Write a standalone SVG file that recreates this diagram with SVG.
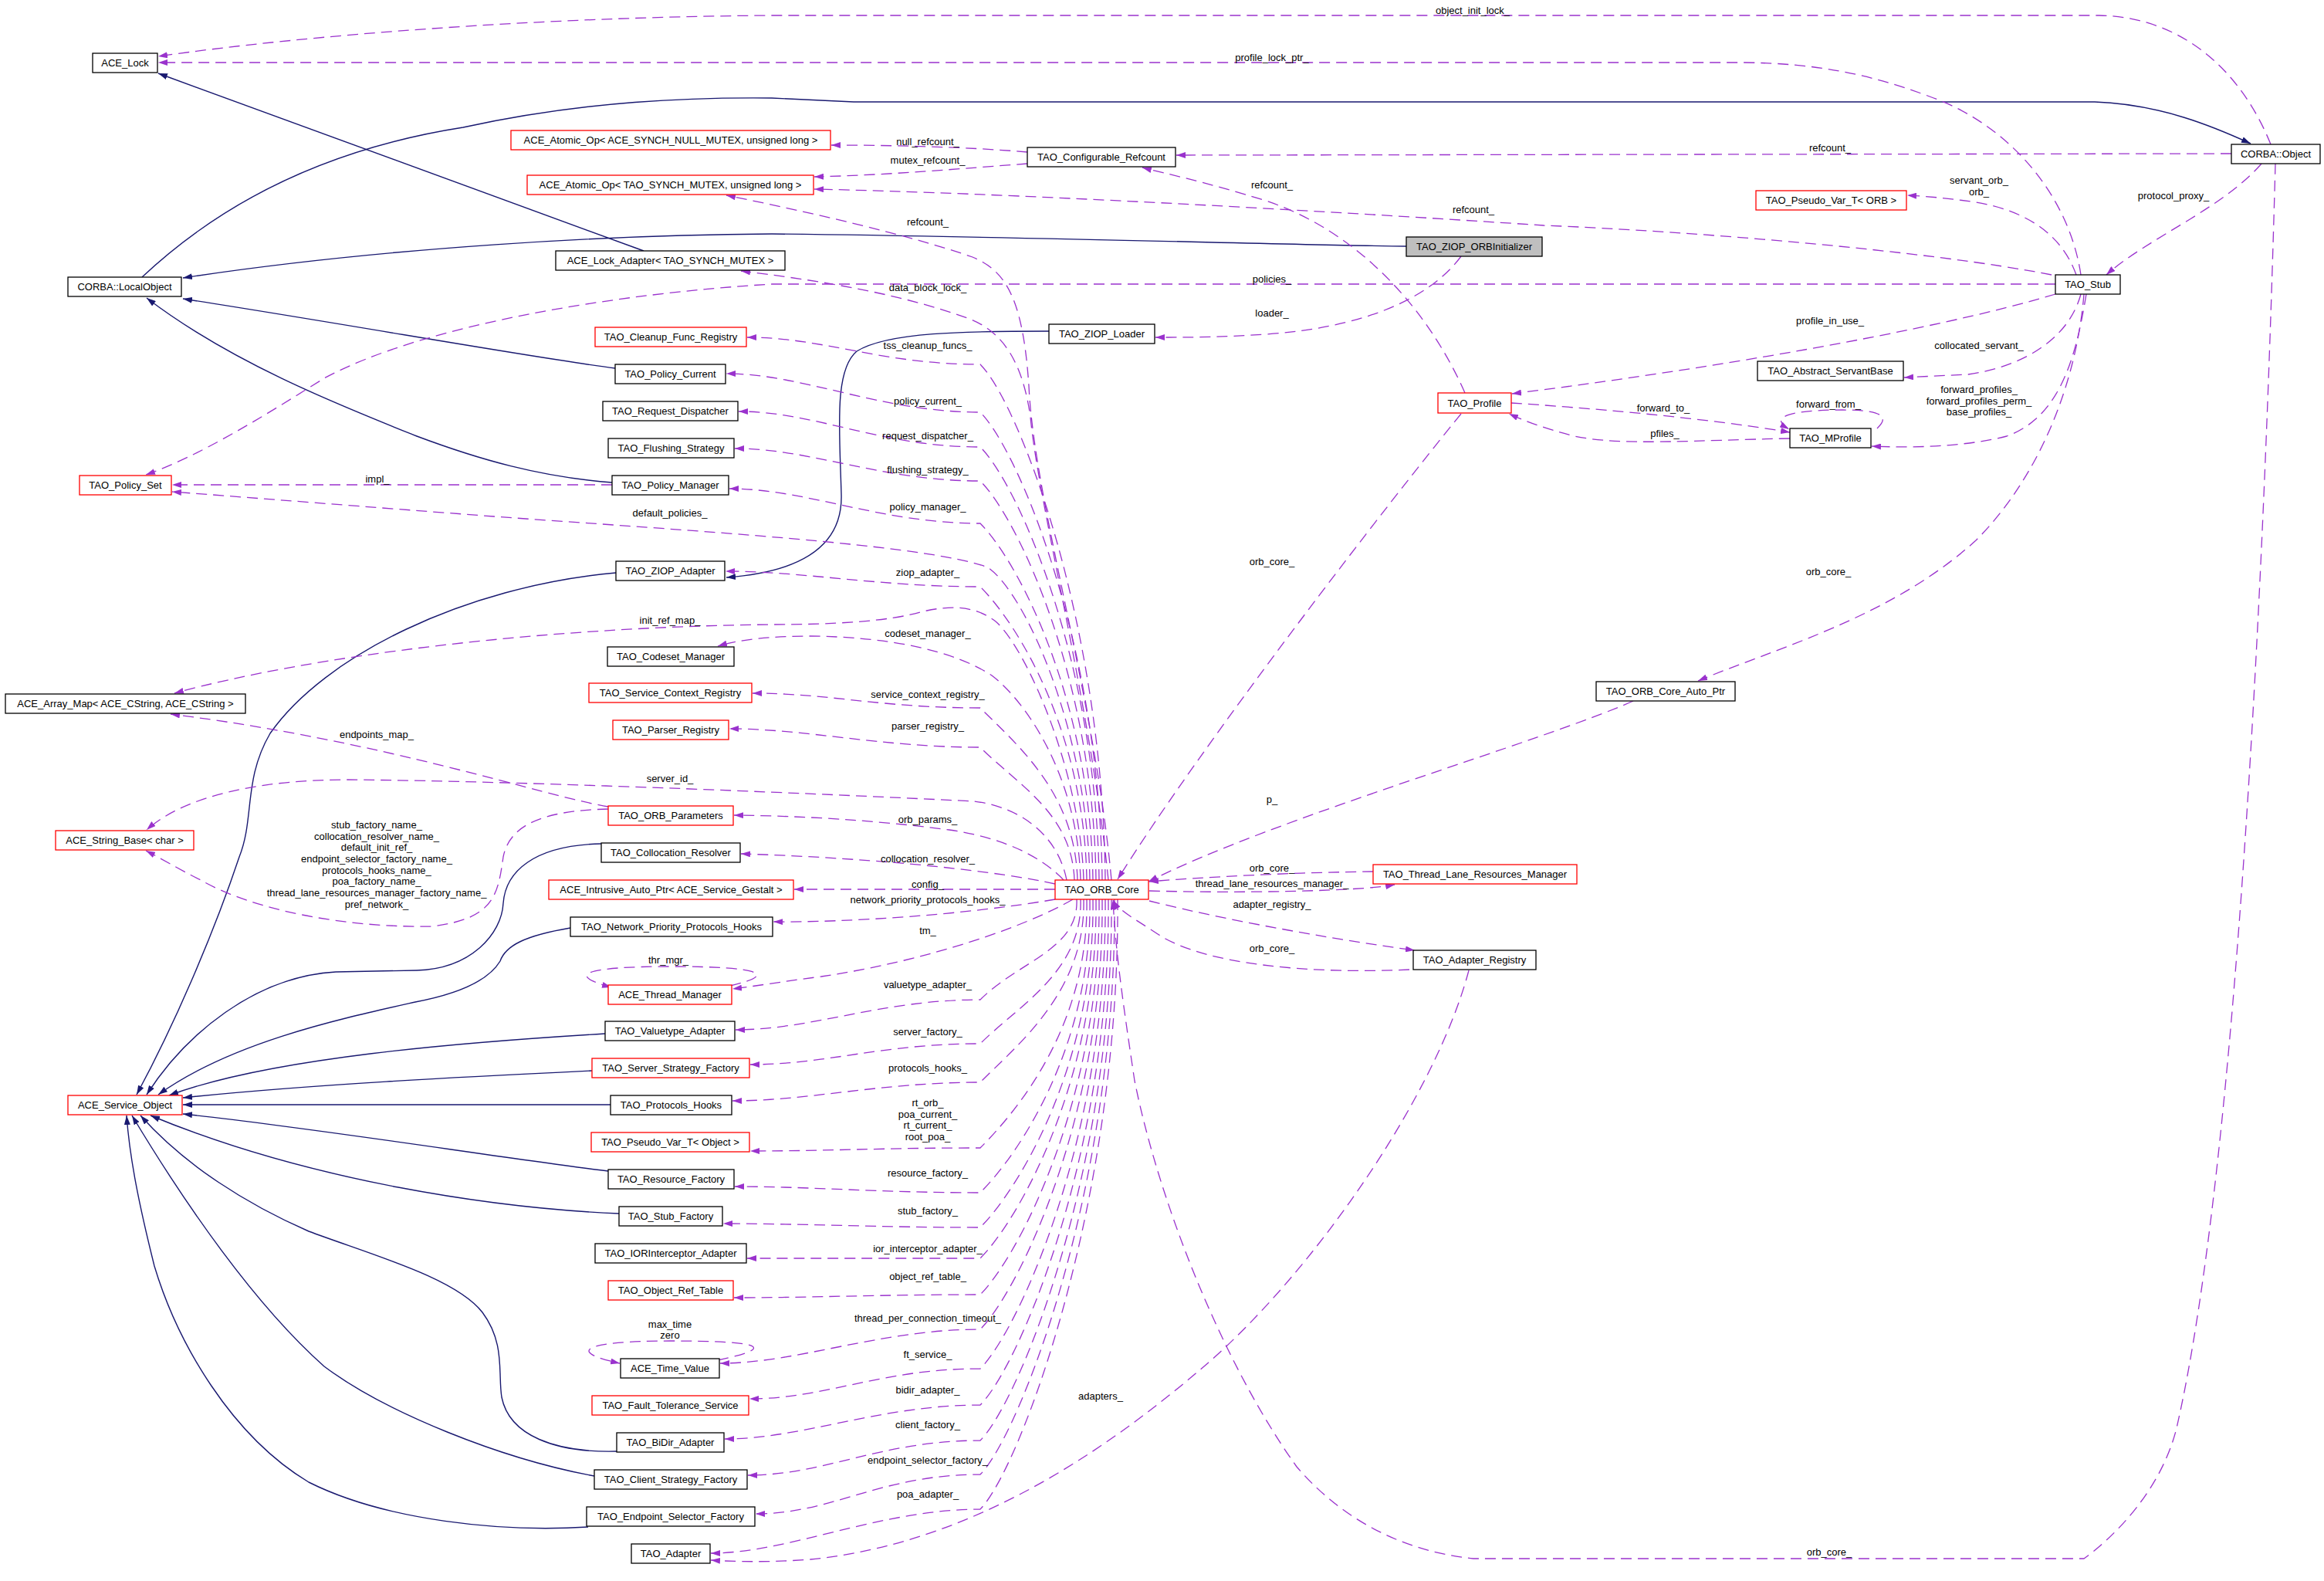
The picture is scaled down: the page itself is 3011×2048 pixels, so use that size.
<svg xmlns="http://www.w3.org/2000/svg" width="3011" height="2048" viewBox="0 0 3011 2048">
<style>
text{font-family:"Liberation Sans",Arial,sans-serif;font-size:13px;fill:#000;text-anchor:middle}
.n rect{fill:#fff;stroke:#000;stroke-width:1.3}
.r rect{stroke:#f00}
.g rect{fill:#bfbfbf}
.e{fill:none;stroke:#9a32cd;stroke-width:1.3;stroke-dasharray:14,8;marker-end:url(#ap)}
.i{fill:none;stroke:#191970;stroke-width:1.4;marker-end:url(#ab)}
</style>
<defs>
<marker id="ap" viewBox="0 0 12 8" refX="12" refY="4" markerWidth="12" markerHeight="8" orient="auto" markerUnits="userSpaceOnUse"><path d="M0,0L12,4L0,8z" fill="#9a32cd"/></marker>
<marker id="ab" viewBox="0 0 12 8" refX="12" refY="4" markerWidth="12" markerHeight="8" orient="auto" markerUnits="userSpaceOnUse"><path d="M0,0L12,4L0,8z" fill="#191970"/></marker>
</defs>
<rect width="3011" height="2048" fill="#fff"/>
<g id="edges">
<!-- inheritance -->
<path class="i" d="M834,325L205,95"/>
<path class="i" d="M184,359C300,250 440,190 600,165C760,130 900,126 1000,127L1106,132L2714,132C2800,135 2870,165 2916,186"/>
<path class="i" d="M1822,319C1700,318 1300,306 1000,303C800,304 500,320 237,360"/>
<path class="i" d="M797,477C700,465 450,420 237,387"/>
<path class="i" d="M793,625C700,618 620,595 540,565C440,525 300,470 190,386"/>
<path class="i" d="M1359,429C1250,429 1150,430 1110,455C1080,480 1088,560 1090,640C1092,700 1050,740 941,748"/>
<path class="i" d="M798,742C600,760 420,850 350,950C315,1010 330,1060 310,1110C280,1200 230,1320 177,1418"/>
<path class="i" d="M779,1093C690,1095 655,1130 652,1170C650,1210 610,1255 540,1257L435,1259C330,1265 240,1340 190,1418"/>
<path class="i" d="M739,1202C680,1212 655,1225 648,1245C630,1275 580,1290 538,1298C440,1320 300,1350 205,1418"/>
<path class="i" d="M784,1339C600,1350 350,1370 219,1419"/>
<path class="i" d="M767,1387C600,1395 400,1405 237,1422"/>
<path class="i" d="M791,1431L237,1431"/>
<path class="i" d="M788,1517C650,1500 400,1460 237,1443"/>
<path class="i" d="M802,1572C640,1565 400,1530 195,1445"/>
<path class="i" d="M799,1880C720,1882 660,1860 650,1810C645,1780 655,1740 625,1700C590,1655 480,1625 400,1595C320,1560 240,1510 182,1445"/>
<path class="i" d="M770,1912C650,1890 500,1830 420,1770C330,1690 240,1560 171,1445"/>
<path class="i" d="M762,1978C650,1985 500,1970 400,1920C300,1860 230,1740 200,1640C180,1560 168,1500 164,1445"/>
<!-- usage -->
<path class="e" d="M2942,187C2905,95 2830,22 2720,20L1000,20C700,22 400,45 205,73"/>
<path class="e" d="M2696,356C2680,250 2600,160 2500,125C2420,95 2350,82 2260,81L205,81"/>
<path class="e" d="M1331,197C1250,190 1150,188 1077,188"/>
<path class="e" d="M1331,212C1250,218 1150,227 1055,229"/>
<path class="e" d="M2658,356C2500,325 2200,300 2000,292C1700,272 1300,250 1055,245"/>
<path class="e" d="M1440,1140C1418,900 1340,650 1333,500C1325,380 1300,350 1260,333C1180,305 1050,275 941,253"/>
<path class="e" d="M1436,1140C1414,920 1345,650 1335,540C1325,470 1300,430 1256,413C1160,378 1050,362 960,351"/>
<path class="e" d="M2663,368L1000,368C800,380 550,420 420,490C340,540 260,590 189,615"/>
<path class="e" d="M1893,332C1850,390 1760,425 1640,433C1580,437 1540,437 1497,437"/>
<path class="e" d="M1898,509C1850,400 1760,300 1640,260C1560,235 1510,225 1480,217"/>
<path class="e" d="M2891,199L1524,201"/>
<path class="e" d="M2690,356C2670,300 2620,272 2560,262C2520,256 2490,254 2471,253"/>
<path class="e" d="M2930,212C2880,270 2780,310 2729,356"/>
<path class="e" d="M2696,381C2680,440 2620,475 2550,485L2467,489"/>
<path class="e" d="M2663,381C2500,430 2200,480 1959,510"/>
<path class="e" d="M2703,381C2690,460 2670,540 2600,565C2540,580 2470,580 2425,578"/>
<path class="e" d="M2700,381C2690,500 2640,620 2560,700C2450,800 2300,840 2200,882"/>
<path class="e" d="M1958,522C2050,528 2200,540 2319,560"/>
<path class="e" d="M2319,568C2200,570 2100,578 2040,565C2000,555 1975,545 1955,536"/>
<path class="e" d="M2432,555C2448,540 2440,531 2387,531C2320,531 2290,540 2318,556"/>
<path class="e" d="M1893,536C1800,650 1560,960 1448,1139"/>
<path class="e" d="M2116,908C2000,960 1650,1060 1488,1142"/>
<path class="e" d="M1779,1129C1680,1130 1560,1136 1489,1142"/>
<path class="e" d="M1489,1154C1600,1157 1760,1155 1807,1146"/>
<path class="e" d="M1489,1167C1600,1195 1750,1220 1833,1231"/>
<path class="e" d="M1826,1256C1700,1262 1560,1250 1500,1210C1470,1190 1450,1180 1442,1166"/>
<path class="e" d="M1903,1257C1860,1420 1700,1650 1560,1770C1420,1890 1250,2000 1050,2020C1000,2024 950,2023 921,2021"/>
<path class="e" d="M2948,212C2935,700 2900,1500 2820,1850C2800,1930 2740,1990 2700,2019L1909,2019C1820,2010 1740,1970 1680,1900C1580,1760 1500,1550 1470,1400C1455,1300 1445,1230 1442,1166"/>
<!-- ORB_Core fan, upper -->
<path class="e" d="M1432,1140C1429,806 1320,522 1270,472C1140,472 1068,437 968,437"/>
<path class="e" d="M1428,1140C1425,837 1320,584 1270,534C1140,534 1041,484 941,484"/>
<path class="e" d="M1424,1140C1421,860 1320,629 1270,579C1140,579 1057,533 957,533"/>
<path class="e" d="M1420,1140C1417,882 1320,673 1270,623C1140,623 1052,581 952,581"/>
<path class="e" d="M1416,1140C1413,909 1320,728 1270,678C1140,678 1045,633 945,633"/>
<path class="e" d="M1412,1140C1409,950 1330,770 1280,735C1200,705 900,688 640,669C480,657 330,645 223,637"/>
<path class="e" d="M1408,1140C1405,950 1320,810 1270,760C1140,760 1040,740 940,740"/>
<path class="e" d="M1404,1140C1400,1000 1330,840 1290,805C1260,782 1225,785 1192,793C1150,805 1080,809 1000,809C700,812 400,850 226,898"/>
<path class="e" d="M1400,1140C1396,1000 1325,905 1285,875C1235,842 1150,825 1050,824C1000,824 960,828 930,837"/>
<path class="e" d="M1396,1140C1393,1028 1320,967 1270,917C1140,917 1075,898 975,898"/>
<path class="e" d="M1392,1140C1389,1054 1320,1018 1270,968C1140,968 1045,944 945,944"/>
<path class="e" d="M1382,1140C1370,1080 1320,1045 1262,1038C1100,1030 700,1012 450,1010C340,1010 240,1030 190,1075"/>
<path class="e" d="M788,1045C700,1030 500,960 221,925"/>
<path class="e" d="M788,1048C700,1050 660,1070 652,1110C645,1160 640,1190 560,1200C450,1202 330,1180 260,1140C230,1125 205,1110 189,1102"/>
<path class="e" d="M793,628L223,628"/>
<path class="e" d="M1378,1140C1350,1110 1300,1085 1230,1075C1130,1062 1040,1057 951,1056"/>
<path class="e" d="M1367,1145C1300,1130 1150,1112 960,1106"/>
<path class="e" d="M1367,1152L1029,1152"/>
<path class="e" d="M1367,1165C1250,1185 1100,1195 1002,1194"/>
<!-- ORB_Core fan, lower -->
<path class="e" d="M1390,1165C1330,1200 1200,1245 1064,1265C1010,1272 975,1278 949,1281"/>
<path class="e" d="M946,1277C1010,1262 985,1252 870,1252C760,1252 730,1262 792,1279"/>
<path class="e" d="M1395,1165C1398,1230 1320,1245 1270,1295C1140,1295 1053,1334 953,1334"/>
<path class="e" d="M1400,1165C1403,1258 1320,1302 1270,1352C1140,1352 1072,1379 972,1379"/>
<path class="e" d="M1404,1165C1407,1283 1320,1352 1270,1402C1140,1402 1049,1426 949,1426"/>
<path class="e" d="M1408,1165C1411,1326 1320,1437 1270,1487C1140,1487 1072,1491 972,1491"/>
<path class="e" d="M1412,1165C1415,1355 1320,1495 1270,1545C1140,1545 1052,1537 952,1537"/>
<path class="e" d="M1416,1165C1419,1377 1320,1540 1270,1590C1140,1590 1037,1585 937,1585"/>
<path class="e" d="M1420,1165C1423,1397 1320,1580 1270,1630C1140,1630 1068,1630 968,1630"/>
<path class="e" d="M1424,1165C1427,1421 1320,1627 1270,1677C1140,1677 1051,1681 951,1681"/>
<path class="e" d="M1428,1165C1431,1443 1320,1672 1270,1722C1140,1722 1033,1766 933,1766"/>
<path class="e" d="M930,1762C1010,1745 985,1737 868,1737C760,1737 730,1750 803,1766"/>
<path class="e" d="M1432,1165C1435,1469 1320,1723 1270,1773C1140,1773 1071,1812 971,1812"/>
<path class="e" d="M1436,1165C1439,1492 1320,1770 1270,1820C1140,1820 1039,1864 939,1864"/>
<path class="e" d="M1440,1165C1443,1515 1320,1816 1270,1866C1140,1866 1069,1911 969,1911"/>
<path class="e" d="M1444,1165C1447,1537 1320,1860 1270,1910C1140,1910 1079,1961 979,1961"/>
<path class="e" d="M1448,1165C1451,1560 1320,1905 1270,1955C1140,1955 1021,2012 921,2012"/>
<!-- labels -->
<text x="1908" y="18">object_init_lock_</text>
<text x="1648" y="79">profile_lock_ptr_</text>
<text x="1202" y="188">null_refcount_</text>
<text x="1202" y="212">mutex_refcount_</text>
<text x="2371" y="196">refcount_</text>
<text x="1648" y="244">refcount_</text>
<text x="1909" y="276">refcount_</text>
<text x="1202" y="292">refcount_</text>
<text x="2564" y="238">servant_orb_</text>
<text x="2564" y="253">orb_</text>
<text x="2816" y="258">protocol_proxy_</text>
<text x="1648" y="366">policies_</text>
<text x="1202" y="377">data_block_lock_</text>
<text x="1648" y="410">loader_</text>
<text x="2371" y="420">profile_in_use_</text>
<text x="1202" y="452">tss_cleanup_funcs_</text>
<text x="2564" y="452">collocated_servant_</text>
<text x="2564" y="509">forward_profiles_</text>
<text x="2564" y="524">forward_profiles_perm_</text>
<text x="2564" y="538">base_profiles_</text>
<text x="1202" y="524">policy_current_</text>
<text x="2369" y="528">forward_from_</text>
<text x="2155" y="533">forward_to_</text>
<text x="2157" y="566">pfiles_</text>
<text x="1202" y="569">request_dispatcher_</text>
<text x="1202" y="613">flushing_strategy_</text>
<text x="489" y="625">impl_</text>
<text x="1202" y="661">policy_manager_</text>
<text x="868" y="669">default_policies_</text>
<text x="1648" y="732">orb_core_</text>
<text x="2369" y="745">orb_core_</text>
<text x="1202" y="746">ziop_adapter_</text>
<text x="868" y="808">init_ref_map_</text>
<text x="1202" y="825">codeset_manager_</text>
<text x="1202" y="904">service_context_registry_</text>
<text x="1202" y="945">parser_registry_</text>
<text x="488" y="956">endpoints_map_</text>
<text x="868" y="1013">server_id_</text>
<text x="1648" y="1040">p_</text>
<text x="1202" y="1066">orb_params_</text>
<text x="488" y="1073">stub_factory_name_</text>
<text x="488" y="1088">collocation_resolver_name_</text>
<text x="488" y="1102">default_init_ref_</text>
<text x="488" y="1117">endpoint_selector_factory_name_</text>
<text x="488" y="1132">protocols_hooks_name_</text>
<text x="488" y="1146">poa_factory_name_</text>
<text x="488" y="1161">thread_lane_resources_manager_factory_name_</text>
<text x="488" y="1176">pref_network_</text>
<text x="1202" y="1117">collocation_resolver_</text>
<text x="1648" y="1129">orb_core_</text>
<text x="1202" y="1150">config_</text>
<text x="1648" y="1149">thread_lane_resources_manager_</text>
<text x="1202" y="1170">network_priority_protocols_hooks_</text>
<text x="1648" y="1176">adapter_registry_</text>
<text x="1202" y="1210">tm_</text>
<text x="1648" y="1233">orb_core_</text>
<text x="866" y="1248">thr_mgr_</text>
<text x="1202" y="1280">valuetype_adapter_</text>
<text x="1202" y="1341">server_factory_</text>
<text x="1202" y="1388">protocols_hooks_</text>
<text x="1202" y="1433">rt_orb_</text>
<text x="1202" y="1448">poa_current_</text>
<text x="1202" y="1462">rt_current_</text>
<text x="1202" y="1477">root_poa_</text>
<text x="1202" y="1524">resource_factory_</text>
<text x="1202" y="1573">stub_factory_</text>
<text x="1202" y="1622">ior_interceptor_adapter_</text>
<text x="1202" y="1658">object_ref_table_</text>
<text x="1202" y="1712">thread_per_connection_timeout_</text>
<text x="868" y="1720">max_time</text>
<text x="868" y="1734">zero</text>
<text x="1202" y="1759">ft_service_</text>
<text x="1202" y="1805">bidir_adapter_</text>
<text x="1426" y="1813">adapters_</text>
<text x="1202" y="1850">client_factory_</text>
<text x="1202" y="1896">endpoint_selector_factory_</text>
<text x="1202" y="1940">poa_adapter_</text>
<text x="2370" y="2015">orb_core_</text>
</g>
<g id="node-ACE_Lock" class="n"><rect x="120" y="69" width="84" height="25"/><text x="162" y="86">ACE_Lock</text></g>
<g id="node-CORBA_LocalObject" class="n"><rect x="88" y="359" width="147" height="25"/><text x="161.5" y="376">CORBA::LocalObject</text></g>
<g id="node-TAO_Policy_Set" class="n r"><rect x="103" y="616" width="119" height="25"/><text x="162.5" y="633">TAO_Policy_Set</text></g>
<g id="node-ACE_Array_Map" class="n"><rect x="7" y="899" width="311" height="25"/><text x="162.5" y="916">ACE_Array_Map&lt; ACE_CString, ACE_CString &gt;</text></g>
<g id="node-ACE_String_Base" class="n r"><rect x="72" y="1076" width="179" height="25"/><text x="161.5" y="1093">ACE_String_Base&lt; char &gt;</text></g>
<g id="node-ACE_Service_Object" class="n r"><rect x="88" y="1419" width="148" height="25"/><text x="162" y="1436">ACE_Service_Object</text></g>
<g id="node-ACE_Atomic_Op_NULL" class="n r"><rect x="662" y="169" width="414" height="25"/><text x="869" y="186">ACE_Atomic_Op&lt; ACE_SYNCH_NULL_MUTEX, unsigned long &gt;</text></g>
<g id="node-ACE_Atomic_Op_TAO" class="n r"><rect x="683" y="227" width="371" height="25"/><text x="868.5" y="244">ACE_Atomic_Op&lt; TAO_SYNCH_MUTEX, unsigned long &gt;</text></g>
<g id="node-ACE_Lock_Adapter" class="n"><rect x="720" y="325" width="297" height="25"/><text x="868.5" y="342">ACE_Lock_Adapter&lt; TAO_SYNCH_MUTEX &gt;</text></g>
<g id="node-TAO_Cleanup_Func_Registry" class="n r"><rect x="771" y="424" width="196" height="25"/><text x="869" y="441">TAO_Cleanup_Func_Registry</text></g>
<g id="node-TAO_Policy_Current" class="n"><rect x="797" y="472" width="143" height="25"/><text x="868.5" y="489">TAO_Policy_Current</text></g>
<g id="node-TAO_Request_Dispatcher" class="n"><rect x="781" y="520" width="175" height="25"/><text x="868.5" y="537">TAO_Request_Dispatcher</text></g>
<g id="node-TAO_Flushing_Strategy" class="n"><rect x="788" y="568" width="163" height="25"/><text x="869.5" y="585">TAO_Flushing_Strategy</text></g>
<g id="node-TAO_Policy_Manager" class="n"><rect x="793" y="616" width="151" height="25"/><text x="868.5" y="633">TAO_Policy_Manager</text></g>
<g id="node-TAO_ZIOP_Adapter" class="n"><rect x="798" y="727" width="141" height="25"/><text x="868.5" y="744">TAO_ZIOP_Adapter</text></g>
<g id="node-TAO_Codeset_Manager" class="n"><rect x="787" y="838" width="164" height="25"/><text x="869" y="855">TAO_Codeset_Manager</text></g>
<g id="node-TAO_Service_Context_Registry" class="n r"><rect x="763" y="885" width="211" height="25"/><text x="868.5" y="902">TAO_Service_Context_Registry</text></g>
<g id="node-TAO_Parser_Registry" class="n r"><rect x="794" y="933" width="150" height="25"/><text x="869" y="950">TAO_Parser_Registry</text></g>
<g id="node-TAO_ORB_Parameters" class="n r"><rect x="788" y="1044" width="162" height="25"/><text x="869" y="1061">TAO_ORB_Parameters</text></g>
<g id="node-TAO_Collocation_Resolver" class="n"><rect x="779" y="1092" width="180" height="25"/><text x="869" y="1109">TAO_Collocation_Resolver</text></g>
<g id="node-ACE_Intrusive_Auto_Ptr" class="n r"><rect x="711" y="1140" width="317" height="25"/><text x="869.5" y="1157">ACE_Intrusive_Auto_Ptr&lt; ACE_Service_Gestalt &gt;</text></g>
<g id="node-TAO_Network_Priority_Protocols_Hooks" class="n"><rect x="739" y="1188" width="262" height="25"/><text x="870" y="1205">TAO_Network_Priority_Protocols_Hooks</text></g>
<g id="node-ACE_Thread_Manager" class="n r"><rect x="788" y="1276" width="160" height="25"/><text x="868" y="1293">ACE_Thread_Manager</text></g>
<g id="node-TAO_Valuetype_Adapter" class="n"><rect x="784" y="1323" width="168" height="25"/><text x="868" y="1340">TAO_Valuetype_Adapter</text></g>
<g id="node-TAO_Server_Strategy_Factory" class="n r"><rect x="767" y="1371" width="204" height="25"/><text x="869" y="1388">TAO_Server_Strategy_Factory</text></g>
<g id="node-TAO_Protocols_Hooks" class="n"><rect x="791" y="1419" width="157" height="25"/><text x="869.5" y="1436">TAO_Protocols_Hooks</text></g>
<g id="node-TAO_Pseudo_Var_T_Object" class="n r"><rect x="766" y="1467" width="205" height="25"/><text x="868.5" y="1484">TAO_Pseudo_Var_T&lt; Object &gt;</text></g>
<g id="node-TAO_Resource_Factory" class="n"><rect x="788" y="1515" width="163" height="25"/><text x="869.5" y="1532">TAO_Resource_Factory</text></g>
<g id="node-TAO_Stub_Factory" class="n"><rect x="802" y="1563" width="134" height="25"/><text x="869" y="1580">TAO_Stub_Factory</text></g>
<g id="node-TAO_IORInterceptor_Adapter" class="n"><rect x="771" y="1611" width="196" height="25"/><text x="869" y="1628">TAO_IORInterceptor_Adapter</text></g>
<g id="node-TAO_Object_Ref_Table" class="n r"><rect x="788" y="1659" width="162" height="25"/><text x="869" y="1676">TAO_Object_Ref_Table</text></g>
<g id="node-ACE_Time_Value" class="n"><rect x="804" y="1760" width="128" height="25"/><text x="868" y="1777">ACE_Time_Value</text></g>
<g id="node-TAO_Fault_Tolerance_Service" class="n r"><rect x="767" y="1808" width="203" height="25"/><text x="868.5" y="1825">TAO_Fault_Tolerance_Service</text></g>
<g id="node-TAO_BiDir_Adapter" class="n"><rect x="799" y="1856" width="139" height="25"/><text x="868.5" y="1873">TAO_BiDir_Adapter</text></g>
<g id="node-TAO_Client_Strategy_Factory" class="n"><rect x="770" y="1904" width="198" height="25"/><text x="869" y="1921">TAO_Client_Strategy_Factory</text></g>
<g id="node-TAO_Endpoint_Selector_Factory" class="n"><rect x="760" y="1952" width="218" height="25"/><text x="869" y="1969">TAO_Endpoint_Selector_Factory</text></g>
<g id="node-TAO_Adapter" class="n"><rect x="818" y="2000" width="102" height="25"/><text x="869" y="2017">TAO_Adapter</text></g>
<g id="node-TAO_Configurable_Refcount" class="n"><rect x="1331" y="191" width="192" height="25"/><text x="1427" y="208">TAO_Configurable_Refcount</text></g>
<g id="node-TAO_ZIOP_ORBInitializer" class="n g"><rect x="1822" y="307" width="176" height="25"/><text x="1910" y="324">TAO_ZIOP_ORBInitializer</text></g>
<g id="node-TAO_ZIOP_Loader" class="n"><rect x="1359" y="420" width="137" height="25"/><text x="1427.5" y="437">TAO_ZIOP_Loader</text></g>
<g id="node-TAO_Profile" class="n r"><rect x="1863" y="509" width="95" height="26"/><text x="1910.5" y="527">TAO_Profile</text></g>
<g id="node-TAO_ORB_Core" class="n r"><rect x="1367" y="1140" width="121" height="25"/><text x="1427.5" y="1157">TAO_ORB_Core</text></g>
<g id="node-TAO_Thread_Lane_Resources_Manager" class="n r"><rect x="1779" y="1120" width="264" height="25"/><text x="1911" y="1137">TAO_Thread_Lane_Resources_Manager</text></g>
<g id="node-TAO_Adapter_Registry" class="n"><rect x="1831" y="1231" width="159" height="25"/><text x="1910.5" y="1248">TAO_Adapter_Registry</text></g>
<g id="node-CORBA_Object" class="n"><rect x="2891" y="187" width="115" height="25"/><text x="2948.5" y="204">CORBA::Object</text></g>
<g id="node-TAO_Pseudo_Var_T_ORB" class="n r"><rect x="2275" y="247" width="195" height="25"/><text x="2372.5" y="264">TAO_Pseudo_Var_T&lt; ORB &gt;</text></g>
<g id="node-TAO_Stub" class="n"><rect x="2663" y="356" width="84" height="25"/><text x="2705" y="373">TAO_Stub</text></g>
<g id="node-TAO_Abstract_ServantBase" class="n"><rect x="2277" y="468" width="189" height="25"/><text x="2371.5" y="485">TAO_Abstract_ServantBase</text></g>
<g id="node-TAO_MProfile" class="n"><rect x="2319" y="555" width="105" height="25"/><text x="2371.5" y="572">TAO_MProfile</text></g>
<g id="node-TAO_ORB_Core_Auto_Ptr" class="n"><rect x="2068" y="883" width="180" height="25"/><text x="2158" y="900">TAO_ORB_Core_Auto_Ptr</text></g>
</svg>
